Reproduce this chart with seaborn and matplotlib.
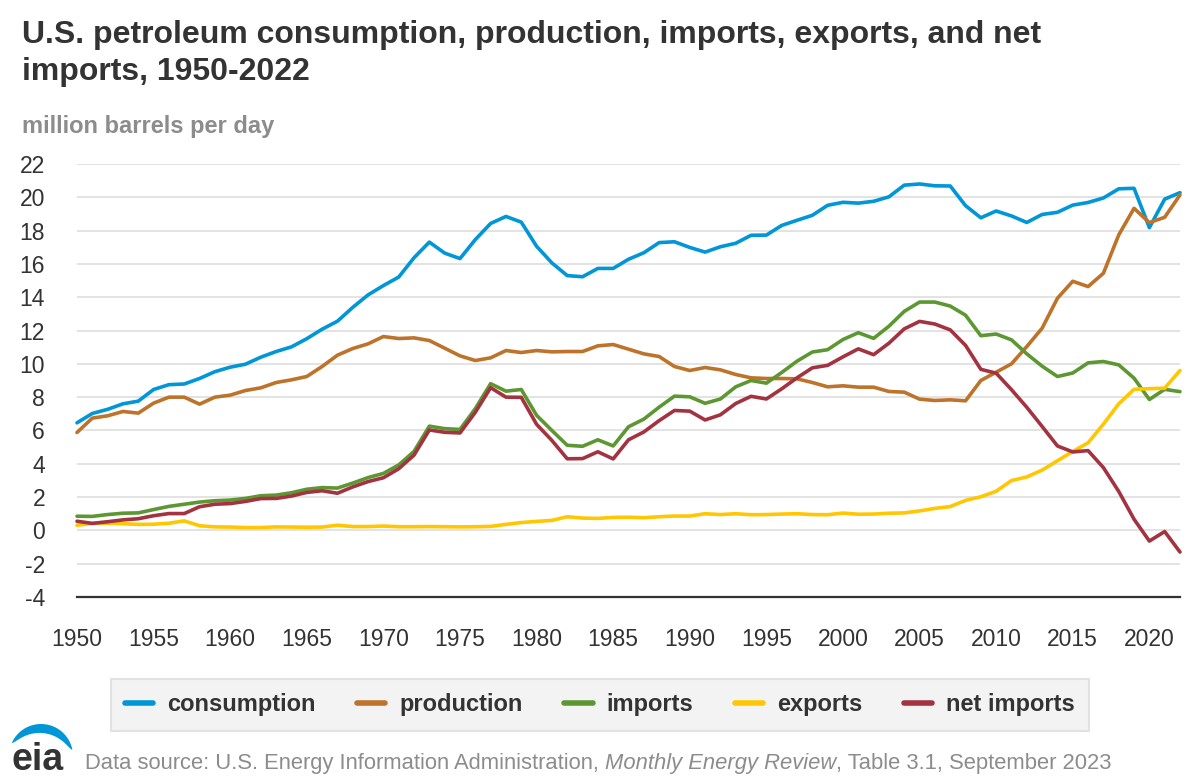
import numpy as np
import pandas as pd
import matplotlib
matplotlib.use("Agg")
import matplotlib.pyplot as plt
from matplotlib.lines import Line2D
from matplotlib.patches import Polygon
import seaborn as sns

years = list(range(1950, 2023))

consumption = [6.46, 7.02, 7.27, 7.60, 7.76, 8.46, 8.75, 8.79, 9.12, 9.53,
               9.80, 9.98, 10.40, 10.74, 11.02, 11.51, 12.08, 12.56, 13.39, 14.14,
               14.70, 15.21, 16.37, 17.31, 16.65, 16.32, 17.46, 18.43, 18.85, 18.51,
               17.06, 16.06, 15.30, 15.23, 15.73, 15.73, 16.28, 16.67, 17.28, 17.33,
               16.99, 16.71, 17.03, 17.24, 17.72, 17.73, 18.31, 18.62, 18.92, 19.52,
               19.70, 19.65, 19.76, 20.03, 20.73, 20.80, 20.69, 20.68, 19.50, 18.77,
               19.18, 18.88, 18.49, 18.97, 19.10, 19.53, 19.69, 19.96, 20.51, 20.54,
               18.18, 19.89, 20.28]

production = [5.88, 6.74, 6.88, 7.14, 7.04, 7.64, 8.00, 8.00, 7.58, 8.00,
              8.12, 8.40, 8.56, 8.88, 9.04, 9.24, 9.84, 10.52, 10.92, 11.20,
              11.64, 11.52, 11.56, 11.40, 10.94, 10.48, 10.20, 10.36, 10.80, 10.68,
              10.80, 10.72, 10.74, 10.74, 11.08, 11.16, 10.88, 10.60, 10.44, 9.84,
              9.60, 9.78, 9.64, 9.36, 9.16, 9.12, 9.12, 9.10, 8.88, 8.62,
              8.68, 8.60, 8.60, 8.34, 8.30, 7.88, 7.80, 7.84, 7.78, 9.00,
              9.50, 10.00, 11.04, 12.14, 13.94, 14.96, 14.64, 15.44, 17.74, 19.34,
              18.48, 18.80, 20.14]

imports = [0.85, 0.84, 0.95, 1.03, 1.05, 1.25, 1.44, 1.57, 1.70, 1.78,
           1.82, 1.92, 2.08, 2.12, 2.26, 2.47, 2.57, 2.54, 2.84, 3.17,
           3.42, 3.93, 4.74, 6.26, 6.11, 6.06, 7.31, 8.81, 8.36, 8.46,
           6.91, 6.00, 5.11, 5.05, 5.44, 5.07, 6.22, 6.68, 7.40, 8.06,
           8.02, 7.63, 7.89, 8.62, 9.00, 8.84, 9.48, 10.16, 10.71, 10.85,
           11.46, 11.87, 11.53, 12.26, 13.15, 13.71, 13.71, 13.47, 12.92, 11.69,
           11.79, 11.44, 10.60, 9.86, 9.24, 9.45, 10.06, 10.14, 9.94, 9.14,
           7.86, 8.47, 8.33]

exports = [0.31, 0.42, 0.43, 0.40, 0.36, 0.37, 0.43, 0.57, 0.28, 0.21,
           0.20, 0.17, 0.17, 0.21, 0.20, 0.19, 0.20, 0.31, 0.23, 0.23,
           0.26, 0.22, 0.22, 0.23, 0.22, 0.21, 0.22, 0.24, 0.36, 0.47,
           0.54, 0.60, 0.82, 0.74, 0.72, 0.78, 0.79, 0.76, 0.82, 0.86,
           0.86, 1.00, 0.95, 1.00, 0.94, 0.95, 0.98, 1.00, 0.95, 0.94,
           1.04, 0.97, 0.98, 1.03, 1.05, 1.17, 1.32, 1.43, 1.80, 2.02,
           2.35, 2.99, 3.21, 3.62, 4.18, 4.74, 5.26, 6.38, 7.60, 8.47,
           8.51, 8.54, 9.60]

net_imports = [0.55, 0.42, 0.52, 0.63, 0.70, 0.88, 1.01, 1.01, 1.42, 1.57,
               1.61, 1.74, 1.91, 1.92, 2.06, 2.28, 2.38, 2.23, 2.61, 2.93,
               3.16, 3.70, 4.52, 6.03, 5.89, 5.85, 7.09, 8.57, 8.00, 7.99,
               6.37, 5.40, 4.30, 4.31, 4.72, 4.29, 5.44, 5.91, 6.59, 7.20,
               7.16, 6.63, 6.94, 7.62, 8.05, 7.89, 8.50, 9.16, 9.76, 9.91,
               10.42, 10.90, 10.55, 11.24, 12.10, 12.55, 12.39, 12.04, 11.11, 9.67,
               9.44, 8.45, 7.39, 6.24, 5.07, 4.71, 4.79, 3.77, 2.34, 0.67,
               -0.64, -0.07, -1.30]

series_names = ["consumption", "production", "imports", "exports", "net imports"]
colors = ["#0096D7", "#BD732A", "#5D9732", "#FFC702", "#A33340"]

df = pd.DataFrame({
    "year": years * 5,
    "value": consumption + production + imports + exports + net_imports,
    "series": [n for n in series_names for _ in years],
})

sns.set_style("white")
plt.rcParams["font.family"] = ["Liberation Sans", "DejaVu Sans"]
plt.rcParams["axes.unicode_minus"] = False

fig = plt.figure(figsize=(12, 7.8), dpi=100)
W, H = 1200, 780
ax = fig.add_axes([77 / W, 1 - 597 / H, (1180 - 77) / W, (597 - 164) / H])

sns.lineplot(data=df, x="year", y="value", hue="series", hue_order=series_names,
             palette=colors, linewidth=2.6, ax=ax, legend=False)
for ln in ax.get_lines():
    ln.set_solid_joinstyle("round")
    ln.set_clip_on(False)

ax.set_xlim(1950, 2022)
ax.set_ylim(-4, 22)
ax.set_yticks(range(-4, 23, 2))
ax.set_xticks(range(1950, 2021, 5))
ax.yaxis.grid(True, color="#e3e3e3", linewidth=1.4)
ax.set_axisbelow(True)
for s in ["top", "right", "left"]:
    ax.spines[s].set_visible(False)
ax.spines["bottom"].set_color("#333333")
ax.spines["bottom"].set_linewidth(1.6)
ax.tick_params(axis="x", direction="out", length=13, width=1.6, color="#333333",
               labelsize=16.5, labelcolor="#333333", pad=9)
ax.tick_params(axis="y", length=0, labelsize=16.5, labelcolor="#333333", pad=23)
ax.set_xlabel("")
ax.set_ylabel("")

# title and units
fig.text(22 / W, 1 - 35 / H, "U.S. petroleum consumption, production, imports, exports, and net",
         fontsize=23, fontweight="bold", color="#333333", va="center")
fig.text(22 / W, 1 - 72 / H, "imports, 1950-2022",
         fontsize=23, fontweight="bold", color="#333333", va="center")
fig.text(22 / W, 1 - 127 / H, "million barrels per day",
         fontsize=17, fontweight="bold", color="#8c8c8c", va="center")

# legend
handles = [Line2D([0], [0], color=c, linewidth=4, solid_capstyle="round") for c in colors]
leg = fig.legend(handles, series_names, loc="center", ncol=5,
                 bbox_to_anchor=(600 / W, 1 - 705 / H), frameon=True, fancybox=False,
                 facecolor="#f0f0f0", edgecolor="#dddddd", handlelength=1.2,
                 handletextpad=0.6, columnspacing=1.75, borderpad=0.6,
                 prop={"size": 17, "weight": "bold"})
leg.get_frame().set_linewidth(1.5)
for t in leg.get_texts():
    t.set_color("#333333")

# source line with italic part
fig.canvas.draw()
renderer = fig.canvas.get_renderer()
parts = [("Data source: U.S. Energy Information Administration, ", "normal"),
         ("Monthly Energy Review", "italic"),
         (", Table 3.1, September 2023", "normal")]
x = 85 / W
for txt, style in parts:
    t = fig.text(x, 1 - 763 / H, txt, fontsize=15.85, style=style, color="#8c8c8c", va="center")
    bb = t.get_window_extent(renderer=renderer)
    x += bb.width / W

# eia logo (pixel space, y up from figure bottom)
lax = fig.add_axes([0, 0, 80 / W, 70 / H])
lax.set_xlim(0, 80)
lax.set_ylim(0, 70)
lax.axis("off")
cx, cy, r = 41, 24, 32
th = np.linspace(np.radians(11), np.radians(156), 60)
thick = 9 * np.sin(np.pi * (th - th[0]) / (th[-1] - th[0])) ** 0.6
outer = np.column_stack([cx + r * np.cos(th), cy + r * np.sin(th)])
inner = np.column_stack([cx + (r - thick) * np.cos(th), cy + (r - thick) * np.sin(th)])[::-1]
lax.add_patch(Polygon(np.vstack([outer, inner]), closed=True, color="#0096D7", lw=0))
lax.text(37.5, 10, "eia", fontsize=27, color="#333333", ha="center", va="baseline",
         fontweight="bold")

fig.savefig("out.png", dpi=100)
